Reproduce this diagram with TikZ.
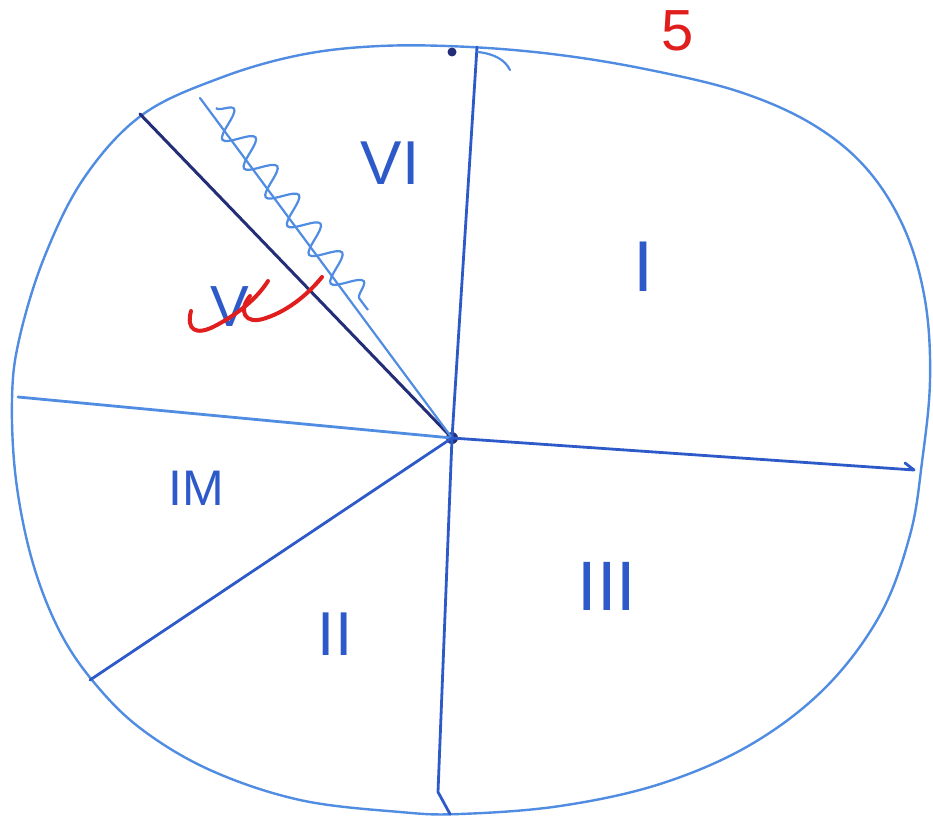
\documentclass[tikz,border=0pt]{standalone}
\usepackage{fontspec}
\setmainfont{Liberation Sans}
\usetikzlibrary{decorations.pathmorphing}
\definecolor{outl}{RGB}{80,140,225}
\definecolor{penb}{RGB}{45,90,200}
\definecolor{navy}{RGB}{35,45,120}
\definecolor{redpen}{RGB}{225,30,30}
\tikzset{
  rim/.style={draw=outl, line width=2.4pt, line join=round},
  sector/.style={draw=penb, line width=2.8pt, line cap=round},
  numeral/.style={text=penb, inner sep=0pt, font=\fontsize{62}{62}\selectfont},
  redmark/.style={draw=redpen, line width=4pt, line cap=round, line join=round},
}
\begin{document}
\begin{tikzpicture}[x=1pt, y=-1pt]
\useasboundingbox (0,0) rectangle (933,816);
% outline
\draw[rim] plot[smooth cycle, tension=0.6] coordinates {
 (470,47) (380,46) (300,55) (220,78) (142,115) (84,178) (44,258) (19,340)
 (12,400) (16,480) (32,560) (58,628) (92,680) (140,728) (210,770) (300,800)
 (400,812) (460,814) (560,806) (660,784) (750,745) (825,688) (880,615)
 (910,535) (922,462) (930,380) (925,300) (904,228) (866,168) (812,124)
 (740,92) (650,70) (560,55)};
\coordinate (c) at (452,438);
\fill[navy] (c) circle (6);
\coordinate (ptop) at (477,47);
\coordinate (pnw) at (140,114);
\coordinate (pwave) at (200,98);
\coordinate (pw) at (18,397);
\coordinate (psw) at (90,680);
\coordinate (pkink) at (438,792);
\coordinate (pbot) at (450,814);
\coordinate (pe) at (914,470);
\draw[sector] (c) -- (ptop);
\draw[draw=navy, line width=3pt, line cap=round] (c) -- (pnw);
\draw[draw=outl, line width=2.2pt, line cap=round] (c) -- (pwave);
\draw[sector, draw=outl] (c) -- (pw);
\draw[sector] (c) -- (psw);
\draw[sector, line join=round] (c) -- (pkink) -- (pbot);
\draw[sector, line join=round] (c) -- (pe) -- (905,463);
% top hook and dot
\draw[draw=outl, line width=2.2pt, line cap=round] (478,52) .. controls (495,54) and (505,60) .. (510,70);
\fill[navy] (452,52) circle (4.5);
% wavy line
\coordinate (wa) at (216,108);
\coordinate (wb) at (368,310);
\draw[draw=outl, line width=2.2pt, decorate, decoration={snake, segment length=36, amplitude=14}] (wa) -- (wb);
% labels
\node[numeral] (vi) at (390,163) {VI};
\node[numeral, font=\fontsize{72}{72}\selectfont] (one) at (643,267) {I};
\node[numeral, font=\fontsize{58}{58}\selectfont] (v) at (230,307) {V};
\node[numeral, font=\fontsize{50}{50}\selectfont] (iv) at (196,488) {IM};
\node[numeral] (two) at (335,634) {II};
\node[numeral, font=\fontsize{70}{70}\selectfont] (three) at (607,586) {III};
\node[text=redpen, inner sep=0pt, font=\fontsize{58}{58}\selectfont] (five) at (678,31) {5};
% red scribble
\draw[redmark] (191,311) .. controls (186,330) and (196,336) .. (215,326) .. controls (236,315) and (256,300) .. (268,281);
\draw[redmark] (250,296) .. controls (238,310) and (244,326) .. (266,318) .. controls (290,310) and (310,292) .. (322,277);
\end{tikzpicture}
\end{document}
